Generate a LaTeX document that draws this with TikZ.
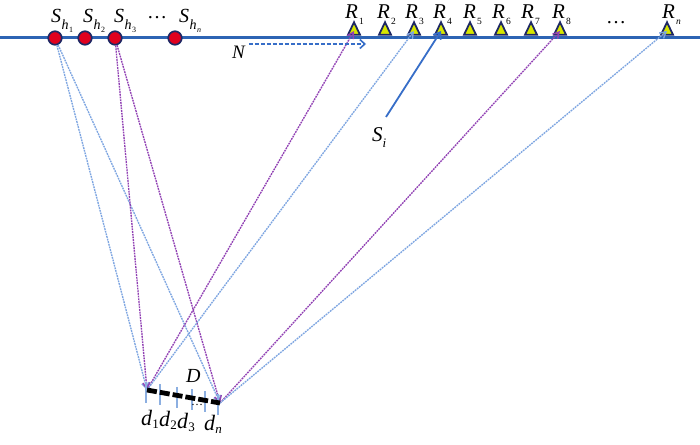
\documentclass[tikz,border=0pt]{standalone}
\usepackage{fontspec}
\setmainfont{Liberation Serif}
\usetikzlibrary{arrows.meta,shapes.geometric}
\definecolor{lineblue}{RGB}{45,100,180}
\definecolor{navy}{RGB}{30,40,100}
\definecolor{srcred}{RGB}{225,0,30}
\definecolor{rcvyel}{RGB}{215,230,0}
\definecolor{rayblue}{RGB}{125,165,225}
\definecolor{raypurple}{RGB}{145,65,180}
\definecolor{arrblue}{RGB}{55,110,200}
\definecolor{tickblue}{RGB}{140,175,225}
\newcommand{\SubSh}[1]{\textit{S}\hspace{0.5pt}\raisebox{-7pt}{\fontsize{14}{15}\selectfont\textit{h}\hspace{0.5pt}\raisebox{-3pt}{\fontsize{8}{9}\selectfont #1}}}
\newcommand{\SubR}[1]{\textit{R}\hspace{1pt}\raisebox{-6pt}{\fontsize{9.5}{11}\selectfont #1}}
\newcommand{\SubD}[1]{\textit{d}\raisebox{-3pt}{\fontsize{13}{14}\selectfont #1}}
\begin{document}
\begin{tikzpicture}[x=1pt,y=-1pt,
  lbl/.style={inner sep=0pt,anchor=base west,font=\fontsize{20}{22}\selectfont},
  src/.style={circle,draw=navy,fill=srcred,line width=1.7pt,minimum size=13.5pt,inner sep=0pt},
  rcv/.style={isosceles triangle,isosceles triangle apex angle=60,shape border rotate=90,
     isosceles triangle stretches,draw=navy,fill=rcvyel,line width=1.8pt,
     minimum height=12.5pt,minimum width=12pt,inner sep=0pt},
  ray/.style={line width=1.35pt,dash pattern=on 1.8pt off 0.9pt,-{Straight Barb[length=6pt,width=7pt]}},
  blueray/.style={ray,rayblue},
  purpray/.style={ray,raypurple},
  tickline/.style={tickblue,line width=1.5pt}]
\useasboundingbox (0,0) rectangle (700,444);
\fill[white] (0,0) rectangle (700,444);
% surface line
\coordinate (L) at (0,37.5);
\coordinate (Rt) at (700,37.5);
\draw[lineblue,line width=2.6pt] (L) -- (Rt);
% sources
\node[src] (sh1) at (55,38) {};
\node[src] (sh2) at (85,38) {};
\node[src] (sh3) at (115,38) {};
\node[src] (shn) at (175,38) {};
\node[lbl] (lsh1) at (51,23) {\SubSh{1}};
\node[lbl] (lsh2) at (83,23) {\SubSh{2}};
\node[lbl] (lsh3) at (114,23) {\SubSh{3}};
\node[lbl] (lshd) at (147,19) {…};
\node[lbl] (lshn) at (179,23) {\SubSh{\textit{n}}};
% receivers
\foreach \n/\x/\lx in {1/354/345,2/385/377,3/414/405,4/441/433,5/470/463,6/501/492,7/531/521,8/560/552}{
  \node[rcv] (r\n) at (\x,31) {};
  \node[lbl,font=\fontsize{21}{22}\selectfont] (lr\n) at (\lx,19) {\SubR{\n}};
}
\node[rcv] (rn) at (667,31) {};
\node[lbl,font=\fontsize{21}{22}\selectfont] (lrn) at (662,19) {\SubR{\textit{n}}};
\node[lbl] (lrd) at (606,24) {…};
% diffractor points
\coordinate (d1) at (147,390);
\coordinate (dn) at (220,403);
% rays
\draw[blueray] (sh1) -- (d1);
\draw[blueray] (sh1) -- (dn);
\draw[purpray] (sh3) -- (d1);
\draw[purpray] (sh3) -- (dn);
\draw[purpray] (d1) -- (r1.center);
\draw[blueray] (d1) -- (r3.center);
\draw[purpray] (dn) -- (r8.center);
\draw[blueray] (dn) -- (rn.center);
% N arrow
\node[lbl,font=\fontsize{19}{22}\selectfont] (nlab) at (232,58) {\textit{N}};
\coordinate (nend) at (366,44);
\draw[arrblue,line width=1.6pt,dash pattern=on 4pt off 2pt,-{Straight Barb[length=5pt,width=9pt]}] (nlab.east |- nend) ++(3,0) -- (nend);
% S_i arrow
\coordinate (si0) at (386,117);
\draw[arrblue,line width=1.8pt,-{Straight Barb[length=6pt,width=9pt]}] (si0) -- (r4.center);
\node[lbl,font=\fontsize{21}{22}\selectfont] (silab) at (372,141) {\textit{S}\raisebox{-6pt}{\fontsize{13}{14}\selectfont\textit{i}}};
% diffractor D
\foreach \x in {146,160,177,192,205,218}{
  \draw[tickline] (\x,{391+(\x-146)*0.16-9}) -- (\x,{391+(\x-146)*0.16+12});
}
\draw[black,line width=4.8pt,dash pattern=on 10pt off 3pt] (d1) -- (dn);
\node[lbl] (dlab) at (186,382) {\textit{D}};
\node[lbl,font=\fontsize{22}{24}\selectfont] (ld1) at (141,425) {\SubD{1}};
\node[lbl,font=\fontsize{22}{24}\selectfont] (ld2) at (159,426) {\SubD{2}};
\node[lbl,font=\fontsize{22}{24}\selectfont] (ld3) at (177,428) {\SubD{3}};
\node[lbl,font=\fontsize{12}{14}\selectfont] (ldd) at (191,405) {…};
\node[lbl,font=\fontsize{22}{24}\selectfont] (ldn) at (204,430) {\SubD{\textit{n}}};
\end{tikzpicture}
\end{document}
